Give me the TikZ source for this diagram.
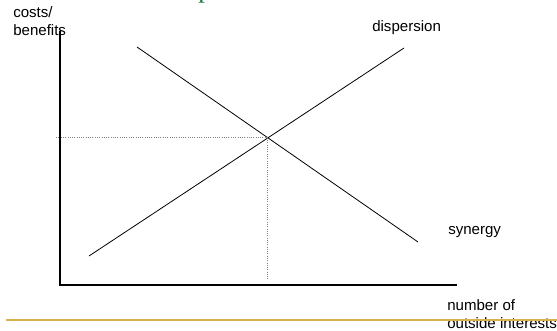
\documentclass[tikz,border=0pt]{standalone}
\usepackage{fontspec}
\setmainfont{Liberation Sans}
\newfontfamily\titlefont{Liberation Serif}
\usetikzlibrary{positioning}
\definecolor{titleGreen}{HTML}{137A3E}
\definecolor{ruleGold}{HTML}{D9B24A}

\begin{document}
\begin{tikzpicture}[
  x=0.75pt, y=-0.75pt,
  axis/.style={draw=black, line width=0.9pt},
  curve/.style={draw=black, line width=0.6pt},
  guide/.style={draw=gray, densely dotted, line width=0.7pt},
  lbl/.style={inner sep=0pt, font=\fontsize{11.3}{13.8}\selectfont, align=left}
]
  \useasboundingbox (0,0) rectangle (557,331);

  % axes
  \coordinate (origin) at (60,285);
  \coordinate (ytop)   at (60,31);
  \coordinate (xend)   at (457,285);
  \draw[axis] (ytop) -- (origin) -- (xend);

  % the two lines and where they meet
  \coordinate (disA) at (89,256);
  \coordinate (disB) at (404,48);
  \coordinate (synA) at (137,47);
  \coordinate (synB) at (418,242);
  \draw[curve] (disA) -- (disB);
  \draw[curve] (synA) -- (synB);
  \coordinate (cross) at (intersection of disA--disB and synA--synB);

  % guides to the axes
  \coordinate (gleft) at (55,0);
  \coordinate (gbot)  at (0,280);
  \draw[guide] (cross) -- (cross -| gleft);
  \draw[guide] (cross) -- (cross |- gbot);

  % labels (base = last line)
  \node[lbl, anchor=base west] (yname) at (13,36) {costs/\\benefits};
  \node[lbl, anchor=base west] (disname) at (372,32) {dispersion};
  \node[lbl, anchor=base west] (synname) at (448,235) {synergy};
  \node[lbl, anchor=base west] (xname) at (447,328.5) {number of\\outside interests};

  % cut-off title and footer rule
  \node[inner sep=0pt, anchor=base, text=titleGreen,
        font=\titlefont\fontsize{20}{24}\selectfont] (title) at (205,-2) {p};
  \coordinate (ruleL) at (6,320);
  \coordinate (ruleR) at (557,320);
  \draw[ruleGold, line width=1.5pt] (ruleL) -- (ruleR);
\end{tikzpicture}
\end{document}
